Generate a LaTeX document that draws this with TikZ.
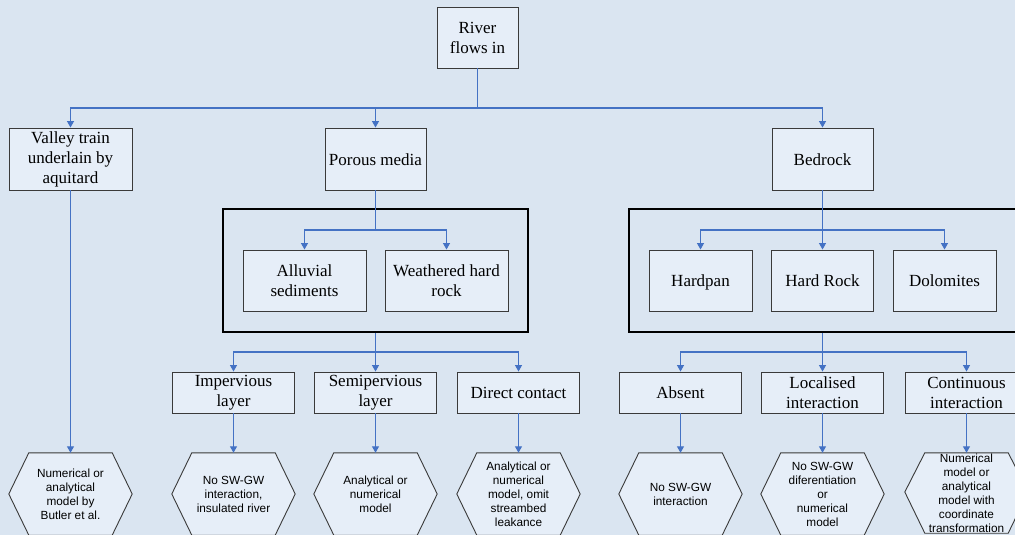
\documentclass[tikz,border=0pt]{standalone}
\usepackage{fontspec}
\setmainfont{Liberation Serif}
\newfontfamily\hexfont{Liberation Sans}
\usetikzlibrary{arrows.meta}
\pgfdeclarelayer{bg}
\pgfsetlayers{bg,main}
\definecolor{bgc}{HTML}{DAE5F1}
\definecolor{boxfill}{HTML}{E6EEF8}
\definecolor{boxline}{HTML}{3A3A3A}
\definecolor{conn}{HTML}{4472C4}
\begin{document}
\begin{tikzpicture}[x=1pt,y=-1pt,
 box/.style={draw=boxline, fill=boxfill, line width=0.9pt, inner sep=0pt, align=center, font=\fontsize{17}{20}\selectfont},
 oneline/.style={text height=12pt, text depth=0pt},
 frame/.style={draw=black, line width=1.6pt, inner sep=0pt},
 hexnode/.style={inner sep=0pt, minimum width=123pt, minimum height=82pt, align=center, font=\hexfont\fontsize{11.8}{14}\selectfont},
 hexline/.style={draw=boxline, fill=boxfill, line width=0.9pt},
 link/.style={draw=conn, line width=1.2pt},
 arr/.style={link, -{Triangle[width=7pt,length=6.5pt]}}]
\useasboundingbox (0,0) rectangle (1015,535);
\begin{pgfonlayer}{bg}
\fill[bgc] (0,0) rectangle (1015,535);
\end{pgfonlayer}

% frames
\node[frame, minimum width=305pt, minimum height=123pt] (pframe) at (375.5,270.5) {};
\node[frame, minimum width=391pt, minimum height=123pt] (bframe) at (824.5,270.5) {};

% top boxes
\node[box, minimum width=81pt, minimum height=61pt] (river) at (477.5,37.5) {River\\flows in};
\node[box, minimum width=123pt, minimum height=62pt] (valley) at (70.5,159) {Valley train\\underlain by\\aquitard};
\node[box, oneline, minimum width=101pt, minimum height=62pt] (porous) at (375.5,159) {Porous media};
\node[box, oneline, minimum width=101pt, minimum height=62pt] (bedrock) at (822.5,159) {Bedrock};

% inside frames
\node[box, minimum width=123pt, minimum height=61pt] (alluvial) at (304.5,280.5) {Alluvial\\sediments};
\node[box, minimum width=123pt, minimum height=61pt] (weathered) at (446.5,280.5) {Weathered hard\\rock};
\node[box, oneline, minimum width=103pt, minimum height=61pt] (hardpan) at (700.5,280.5) {Hardpan};
\node[box, oneline, minimum width=102pt, minimum height=61pt] (hardrock) at (822.5,280.5) {Hard Rock};
\node[box, oneline, minimum width=103pt, minimum height=61pt] (dolomites) at (944.5,280.5) {Dolomites};

% third row
\node[box, minimum width=122pt, minimum height=41pt] (imperv) at (233.5,392.5) {Impervious\\layer};
\node[box, minimum width=122pt, minimum height=41pt] (semi) at (375.5,392.5) {Semipervious\\layer};
\node[box, oneline, minimum width=122pt, minimum height=41pt] (direct) at (518.5,392.5) {Direct contact};
\node[box, oneline, minimum width=122pt, minimum height=41pt] (absent) at (680.5,392.5) {Absent};
\node[box, minimum width=122pt, minimum height=41pt] (local) at (822.5,392.5) {Localised\\interaction};
\node[box, minimum width=122pt, minimum height=41pt] (cont) at (966.5,392.5) {Continuous\\interaction};

% hexagon nodes
\node[hexnode] (hv) at (70.5,494) {Numerical or\\analytical\\model by\\Butler et al.};
\node[hexnode] (hi) at (233.5,494) {No SW-GW\\interaction,\\insulated river};
\node[hexnode] (hs) at (375.5,494) {Analytical or\\numerical\\model};
\node[hexnode] (hd) at (518.5,494) {Analytical or\\numerical\\model, omit\\streambed\\leakance};
\node[hexnode] (ha) at (680.5,494) {No SW-GW\\interaction};
\node[hexnode] (hl) at (822.5,494) {No SW-GW\\diferentiation\\or\\numerical\\model};
\node[hexnode] (hc) at (966.5,493) {Numerical\\model or\\analytical\\model with\\coordinate\\transformation};

\begin{pgfonlayer}{bg}
\foreach \n in {hv,hi,hs,hd,ha,hl}
  \draw[hexline] (\n.west) -- ([xshift=20pt]\n.north west) -- ([xshift=-20pt]\n.north east) -- (\n.east) -- ([xshift=-20pt]\n.south east) -- ([xshift=20pt]\n.south west) -- cycle;
\draw[hexline] ([yshift=1pt]hc.west) -- ([xshift=20pt,yshift=-1pt]hc.north west) -- ([xshift=-20pt,yshift=-1pt]hc.north east) -- ([yshift=1pt]hc.east) -- ([xshift=-20pt,yshift=1pt]hc.south east) -- ([xshift=20pt,yshift=1pt]hc.south west) -- cycle;
\end{pgfonlayer}

% connectors from river
\coordinate (rj) at (477.5,108);
\draw[link] (river.south) -- (rj);
\draw[arr] (rj) -| (valley.north);
\draw[arr] (rj) -| (porous.north);
\draw[arr] (rj) -| (bedrock.north);

% porous media branch
\coordinate (pj) at (375.5,230);
\draw[link] (porous.south) -- (pj);
\draw[arr] (pj) -| (alluvial.north);
\draw[arr] (pj) -| (weathered.north);
\coordinate (pj2) at (375.5,352);
\draw[link] (pframe.south) -- (pj2);
\draw[arr] (pj2) -| (imperv.north);
\draw[arr] (pj2) -| (semi.north);
\draw[arr] (pj2) -| (direct.north);

% bedrock branch
\coordinate (bj) at (822.5,230);
\draw[link] (bedrock.south) -- (bj);
\draw[arr] (bj) -| (hardpan.north);
\draw[arr] (bj) -- (hardrock.north);
\draw[arr] (bj) -| (dolomites.north);
\coordinate (bj2) at (822.5,352);
\draw[link] (bframe.south -| bj) -- (bj2);
\draw[arr] (bj2) -| (absent.north);
\draw[arr] (bj2) -- (local.north);
\draw[arr] (bj2) -| (cont.north);

% to hexagons
\draw[arr] (valley.south) -- (hv.north);
\draw[arr] (imperv.south) -- (hi.north);
\draw[arr] (semi.south) -- (hs.north);
\draw[arr] (direct.south) -- (hd.north);
\draw[arr] (absent.south) -- (ha.north);
\draw[arr] (local.south) -- (hl.north);
\draw[arr] (cont.south) -- ([yshift=-1pt]hc.north);
\end{tikzpicture}
\end{document}
